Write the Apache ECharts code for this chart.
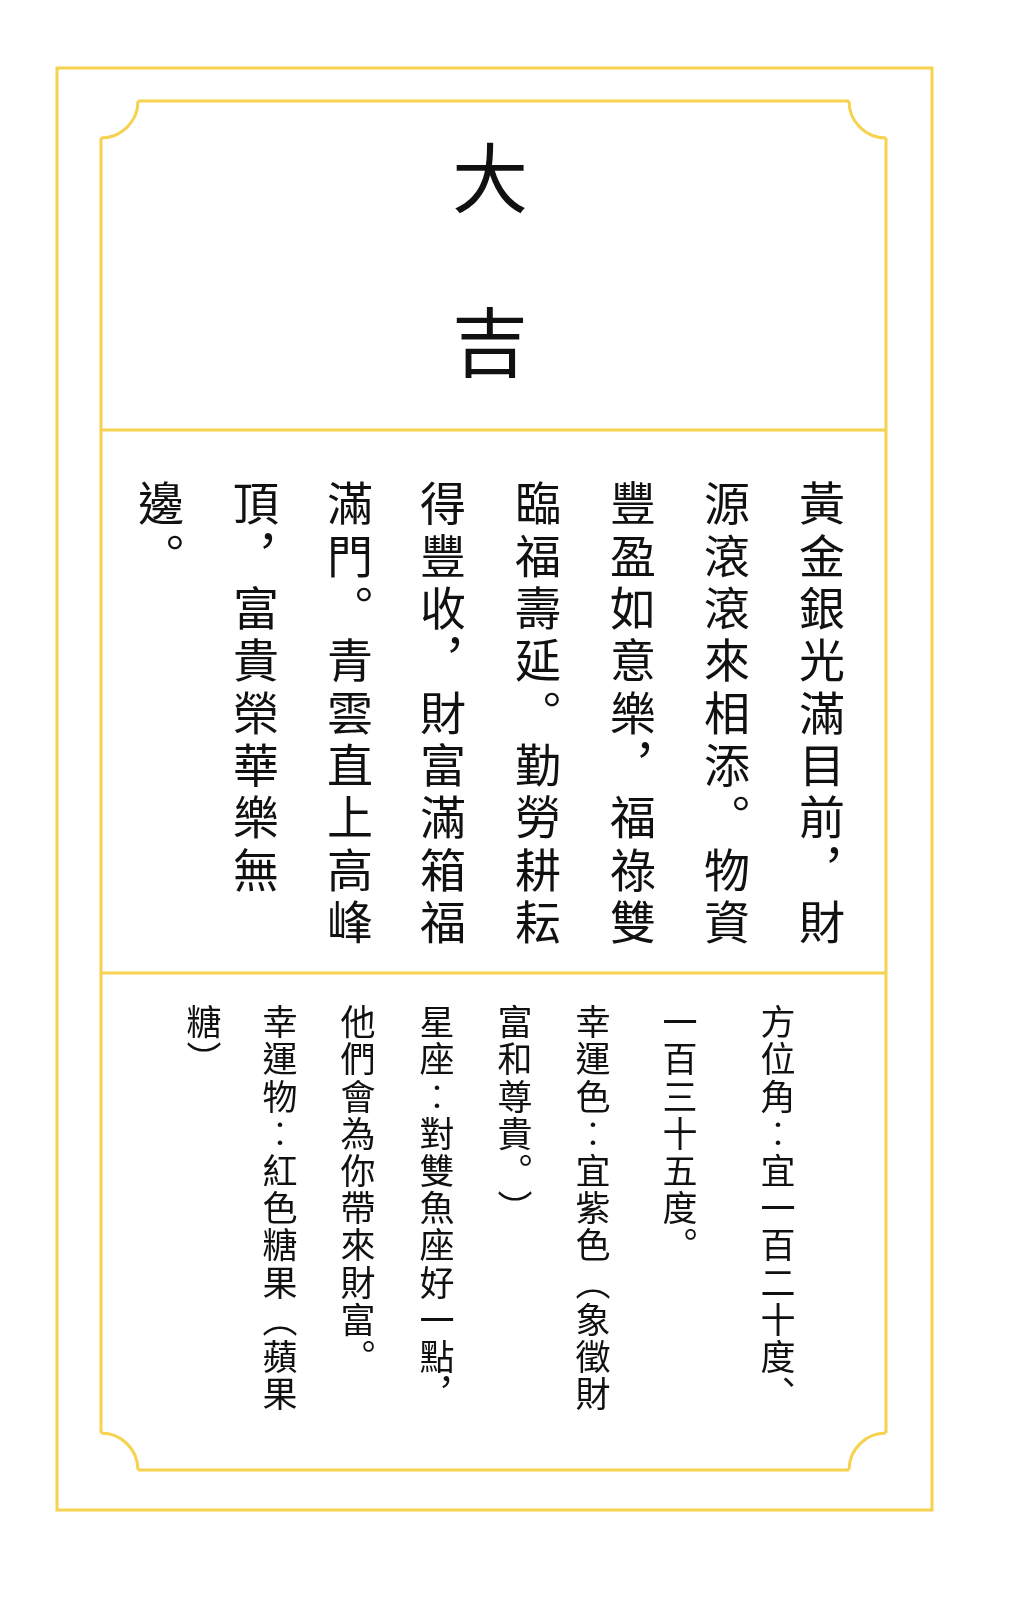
<!DOCTYPE html>
<html><head><meta charset="utf-8">
<script src="https://cdn.jsdelivr.net/npm/echarts@6/dist/echarts.min.js"></script>
<style>html,body{margin:0;padding:0;background:#fff}#c{width:1013px;height:1616px}</style>
</head><body><div id="c"></div>
<script>
const titleChars = ['大','吉'];
const mainColumns = [
 '黃金銀光滿目前，財','源滾滾來相添。物資','豐盈如意樂，福祿雙','臨福壽延。勤勞耕耘',
 '得豐收，財富滿箱福','滿門。青雲直上高峰','頂，富貴榮華樂無','邊。'];
const infoColumns = [
 '方位角：宜一百二十度、','一百三十五度。','幸運色：宜紫色（象徵財','富和尊貴。）',
 '星座：對雙魚座好一點，','他們會為你帶來財富。','幸運物：紅色糖果（蘋果','糖）'];

const vmap = {'，':'︐','。':'︒','、':'︑','：':'︰','（':'︵','）':'︶'};
const Y = '#f6d24e';
const font = '"Noto Sans CJK TC","Noto Sans CJK SC",sans-serif';
const chart = echarts.init(document.getElementById('c'));
const els = [];
const ls = {fill:'none',stroke:Y,lineWidth:3};
els.push({type:'rect',shape:{x:57,y:68,width:875,height:1442},style:ls});
const L=101,T=101,R=886,B=1470,r=37,P=Math.PI;
function line(x1,y1,x2,y2){els.push({type:'line',shape:{x1,y1,x2,y2},style:ls});}
line(L+r,T,R-r,T); line(R,T+r,R,B-r); line(R-r,B,L+r,B); line(L,B-r,L,T+r);
[[L,T,0,P/2],[R,T,P/2,P],[R,B,P,1.5*P],[L,B,1.5*P,2*P]].forEach(a=>
  els.push({type:'arc',shape:{cx:a[0],cy:a[1],r:r,startAngle:a[2],endAngle:a[3],clockwise:true},style:ls}));
line(L,430,R,430); line(L,973,R,973);
titleChars.forEach((c,i)=>els.push({type:'text',x:490,y:[178,342][i],style:{text:c,font:'76px '+font,fill:'#111',align:'center',verticalAlign:'middle'}}));
function column(str,x,y0,step,size){
  [...str].forEach((c,i)=>{
    els.push({type:'text',x:x,y:y0+i*step,style:{text:vmap[c]||c,font:size+'px '+font,fill:'#111',align:'center',verticalAlign:'middle'}});
  });
}
const mainX=[822,727,633,538,443,350,256,161];
mainColumns.forEach((s,i)=>column(s,mainX[i],503,52.3,46));
const infoX=[778,680,593,515,437,358,280,204];
infoColumns.forEach((s,i)=>column(s,infoX[i],1022,37.2,35));
chart.setOption({graphic:{elements:els}});
</script></body></html>
